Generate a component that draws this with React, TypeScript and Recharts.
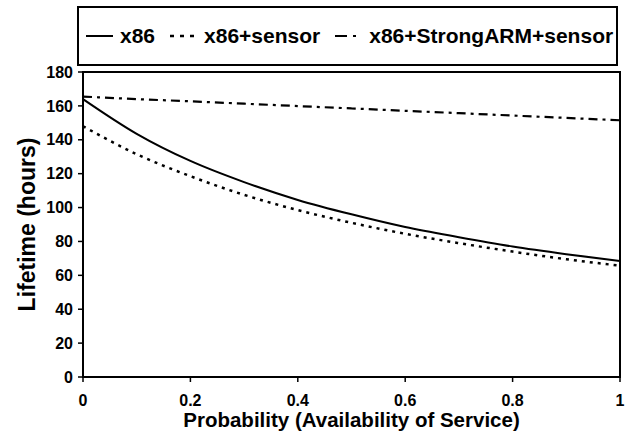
import React from "react";
import { LineChart, Line, XAxis, YAxis, Legend, ReferenceArea } from "recharts";

const probability = [0, 0.1, 0.2, 0.3, 0.4, 0.5, 0.6, 0.7, 0.8, 0.9, 1];
const x86 = [164, 143.5, 127.5, 115, 104.5, 96, 88.5, 82.5, 77, 72.5, 68.5];
const x86Sensor = [148, 131.5, 118.5, 107.5, 98.5, 91, 84.5, 79, 74, 69.5, 65.7];
const x86ArmSensor = [165.5, 164, 162.7, 161.3, 159.9, 158.5, 157.1, 155.7, 154.3, 152.9, 151.5];

const xTicks = [0, 0.2, 0.4, 0.6, 0.8, 1];
const xTickLabels = ["0", "0.2", "0.4", "0.6", "0.8", "1"];
const yTicks = [0, 20, 40, 60, 80, 100, 120, 140, 160, 180];

const seriesNames = ["x86", "x86+sensor", "x86+StrongARM+sensor"];
const seriesDash = ["", "3 5", "9 5 3 5"];
const legendDash = ["", "4 6", "12 6 3 6"];
const seriesWidth = [2, 2.5, 2.2];

const data = probability.map((p, i) => ({
  p,
  a: x86[i],
  b: x86Sensor[i],
  c: x86ArmSensor[i],
}));

const FONT = '"Liberation Sans", Arial, Helvetica, sans-serif';

const LegendBox = () => (
  <div
    style={{
      boxSizing: "border-box",
      width: 541,
      height: 60,
      border: "2px solid #000",
      background: "#fff",
      display: "flex",
      alignItems: "center",
      paddingLeft: 7,
      fontFamily: FONT,
      fontWeight: "bold",
      fontSize: 21,
      color: "#000",
      whiteSpace: "nowrap",
    }}
  >
    {seriesNames.map((name, i) => (
      <div key={name} style={{ display: "flex", alignItems: "center", marginRight: 15 }}>
        <svg width={27} height={10} style={{ marginRight: 7 }}>
          <line
            x1={0}
            y1={5}
            x2={27}
            y2={5}
            stroke="#000"
            strokeWidth={seriesWidth[i]}
            strokeDasharray={legendDash[i] || undefined}
          />
        </svg>
        <span>{name}</span>
      </div>
    ))}
  </div>
);

const YLabel = (props: any) => {
  const vb = props.viewBox || { x: 0, y: 0, width: 0, height: 0 };
  const cx = 27;
  const cy = vb.y + vb.height / 2;
  return (
    <text
      x={cx}
      y={cy}
      transform={`rotate(-90, ${cx}, ${cy})`}
      textAnchor="middle"
      dominantBaseline="central"
      fontFamily={FONT}
      fontWeight="bold"
      fontSize={23}
      fill="#000"
    >
      Lifetime (hours)
    </text>
  );
};

const XLabel = (props: any) => {
  const vb = props.viewBox || { x: 0, y: 0, width: 0, height: 0 };
  const cx = vb.x + vb.width / 2;
  const by = vb.y + vb.height - 17;
  return (
    <text
      x={cx}
      y={by}
      textAnchor="middle"
      fontFamily={FONT}
      fontWeight="bold"
      fontSize={20.5}
      fill="#000"
    >
      Probability (Availability of Service)
    </text>
  );
};

export default function App() {
  return (
    <div style={{ position: "absolute", left: 0, top: 0, width: 629, height: 444, background: "#fff" }}>
      <LineChart
        width={629}
        height={444}
        data={data}
        margin={{ top: 72, right: 9, bottom: 0, left: 0 }}
        style={{ fontFamily: FONT }}
      >
        <XAxis
          dataKey="p"
          type="number"
          domain={[0, 1]}
          ticks={xTicks}
          tickFormatter={(v: number) => xTickLabels[xTicks.indexOf(v)] ?? String(v)}
          height={67}
          tickSize={5}
          tickMargin={13}
          axisLine={{ stroke: "#000", strokeWidth: 2 }}
          tickLine={{ stroke: "#000", strokeWidth: 1.5 }}
          tick={{ fill: "#000", fontSize: 16, fontWeight: "bold", fontFamily: FONT }}
          label={{ content: (p: any) => <XLabel {...p} /> }}
        />
        <YAxis
          type="number"
          domain={[0, 180]}
          ticks={yTicks}
          width={83}
          tickSize={5}
          tickMargin={5}
          axisLine={{ stroke: "#000", strokeWidth: 2 }}
          tickLine={{ stroke: "#000", strokeWidth: 1.5 }}
          tick={{ fill: "#000", fontSize: 16, fontWeight: "bold", fontFamily: FONT }}
          label={{ content: (p: any) => <YLabel {...p} /> }}
        />
        <ReferenceArea
          x1={0}
          x2={1}
          y1={0}
          y2={180}
          fill="none"
          fillOpacity={0}
          stroke="#000"
          strokeWidth={2}
          ifOverflow="extendDomain"
        />
        <Legend
          layout="horizontal"
          verticalAlign="middle"
          align="center"
          wrapperStyle={{ top: 6, left: 77, width: 541, height: 60 }}
          content={() => <LegendBox />}
        />
        <Line
          dataKey="a"
          type="monotone"
          stroke="#000"
          strokeWidth={seriesWidth[0]}
          dot={false}
          isAnimationActive={false}
        />
        <Line
          dataKey="b"
          type="monotone"
          stroke="#000"
          strokeWidth={seriesWidth[1]}
          strokeDasharray={seriesDash[1]}
          dot={false}
          isAnimationActive={false}
        />
        <Line
          dataKey="c"
          type="monotone"
          stroke="#000"
          strokeWidth={seriesWidth[2]}
          strokeDasharray={seriesDash[2]}
          dot={false}
          isAnimationActive={false}
        />
      </LineChart>
    </div>
  );
}
